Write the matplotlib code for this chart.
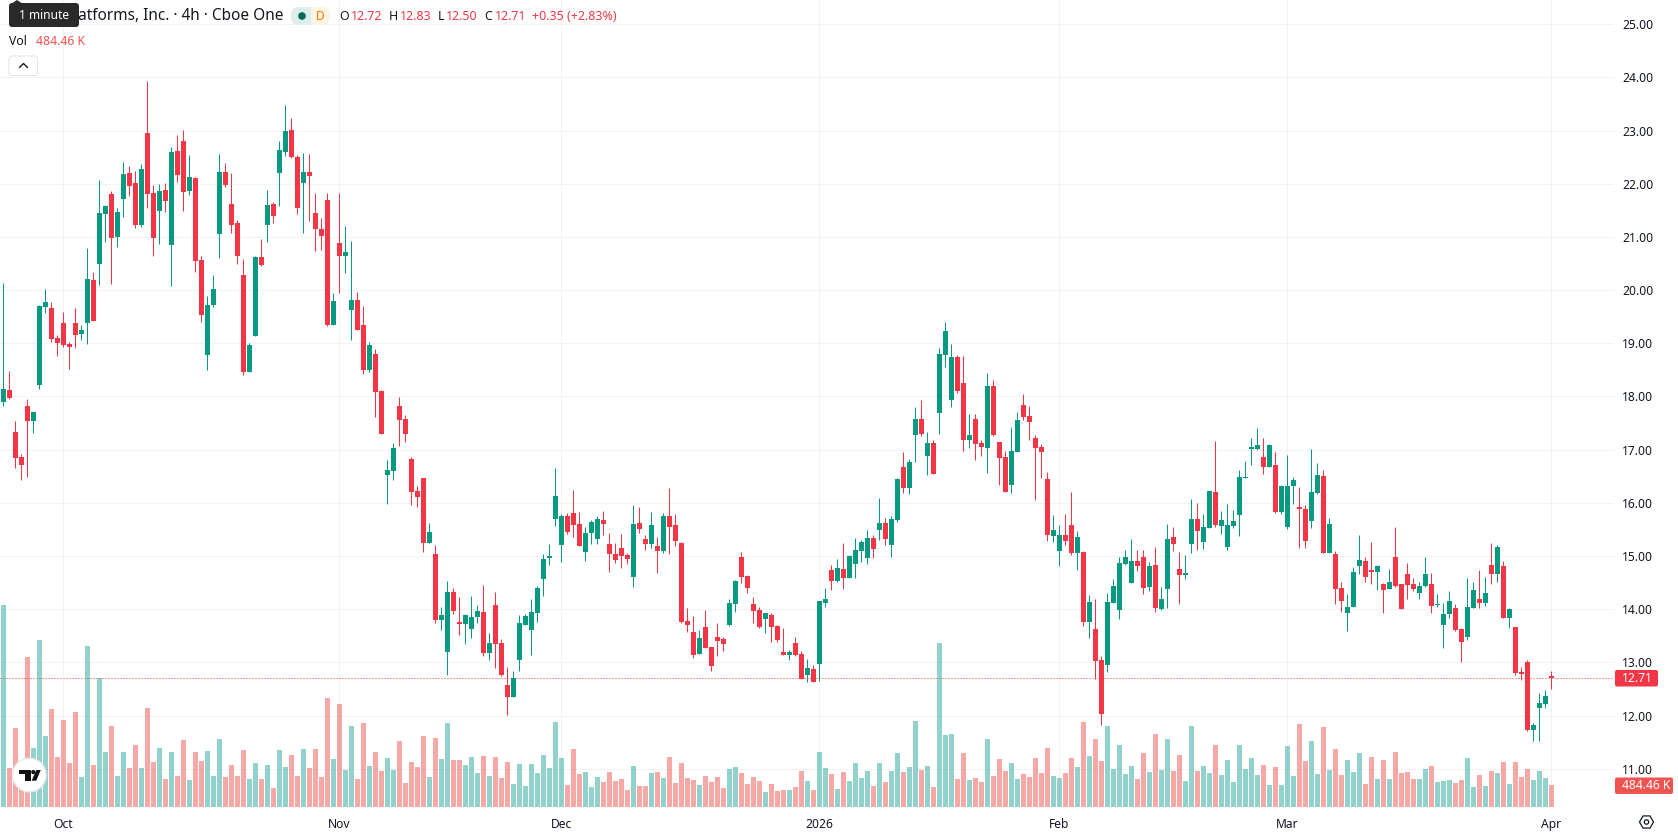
import matplotlib
matplotlib.use("Agg")
import matplotlib.pyplot as plt
import numpy as np
from matplotlib.patches import Circle, FancyBboxPatch, Polygon, Rectangle, RegularPolygon

plt.rcParams["font.family"] = ["Noto Sans", "DejaVu Sans"]

# 4h candles, oldest first
highs = [
    20.13,18.48,17.53,16.91,17.95,17.70,19.72,20.02,19.77,19.15,
    19.59,19.02,19.66,19.34,20.79,20.34,22.07,21.60,21.86,21.54,
    22.41,22.33,22.24,22.37,23.93,21.97,21.99,22.01,22.69,22.91,
    23.01,22.54,22.13,20.64,19.89,20.28,22.56,22.39,22.20,21.32,
    20.58,19.00,20.64,20.96,21.88,21.66,22.80,23.48,23.23,22.54,
    22.58,22.56,21.82,21.35,21.82,19.94,21.82,21.20,20.92,19.96,
    19.70,19.02,18.89,18.12,16.81,17.13,17.99,17.65,16.86,16.32,
    16.47,15.62,15.21,14.04,14.53,14.40,14.23,13.91,14.25,14.08,
    14.45,13.55,14.32,13.44,12.91,12.83,13.89,13.91,14.19,14.43,
    15.04,15.22,16.66,15.79,15.81,16.24,15.83,15.55,15.68,15.75,
    15.85,15.43,15.24,15.41,15.06,15.96,15.92,15.39,15.83,15.36,
    15.81,16.28,15.79,15.26,14.02,13.87,13.61,13.98,13.29,13.74,
    13.47,14.20,14.55,15.07,14.64,14.23,14.04,13.92,13.92,13.70,
    13.64,13.23,13.47,13.21,13.06,12.95,14.15,14.40,14.83,14.94,
    15.24,15.02,15.34,15.30,15.49,15.39,16.09,15.71,15.75,16.47,
    16.95,16.82,17.80,17.93,17.33,17.18,18.91,19.40,18.99,18.78,
    18.76,17.67,17.67,17.18,18.44,18.31,17.14,16.97,17.43,17.71,
    18.05,17.82,17.27,17.11,16.58,15.77,15.58,15.79,16.20,15.47,
    15.09,14.26,14.19,13.11,14.30,14.56,14.98,15.11,15.31,15.11,
    15.11,14.88,15.16,14.41,15.61,15.54,15.07,15.01,16.07,15.99,
    15.78,16.23,17.17,15.84,15.97,15.86,16.61,16.78,17.21,17.40,
    17.21,17.10,16.95,16.33,16.89,16.48,16.29,15.95,17.01,16.74,
    16.61,15.71,15.09,14.51,14.28,14.79,15.39,14.98,15.26,14.83,
    14.49,14.75,15.54,14.47,14.86,14.58,14.51,14.98,14.68,14.28,
    14.11,14.34,14.09,13.64,14.58,14.52,14.73,14.60,15.24,15.20,
    14.90,14.02,13.66,12.91,13.04,11.86,12.42,12.48,12.83,
]
lows = [
    17.82,17.95,16.65,16.42,16.48,17.32,18.14,19.57,19.02,18.76,
    18.93,18.51,18.91,19.06,18.98,19.42,20.09,20.90,20.11,20.81,
    21.37,21.77,21.17,21.19,21.54,20.64,20.87,21.47,20.07,22.03,
    21.49,21.79,20.34,19.40,18.50,19.68,20.60,21.94,21.07,20.49,
    18.40,18.46,19.13,20.45,20.90,21.26,21.58,22.52,22.48,21.43,
    21.07,21.30,20.73,20.75,19.32,19.34,19.94,20.32,19.06,19.25,
    18.42,18.46,17.61,17.30,15.98,16.43,17.07,17.15,15.96,15.92,
    15.07,15.24,13.74,13.61,12.76,13.91,13.51,13.34,13.46,13.74,
    13.12,13.04,12.89,12.74,12.01,12.35,12.83,13.70,13.14,13.76,
    14.25,14.83,15.56,14.89,15.41,15.36,15.19,14.90,15.22,15.22,
    15.39,14.70,14.87,14.77,14.85,14.42,15.43,15.11,15.15,14.68,
    15.06,15.04,15.19,13.74,13.57,13.08,13.16,13.27,12.83,13.12,
    13.21,13.68,13.94,14.49,14.30,13.74,13.64,13.55,13.38,13.38,
    13.13,13.04,13.11,12.68,12.63,12.63,12.65,14.04,14.36,14.51,
    14.38,14.58,14.58,14.88,14.85,14.96,15.30,15.20,14.98,15.64,
    16.18,16.17,16.77,17.26,16.52,16.54,17.29,18.55,17.80,18.07,
    16.97,17.03,16.80,16.88,16.56,17.26,16.33,16.20,16.18,16.95,
    17.56,17.18,16.05,16.47,15.28,15.26,14.81,15.20,15.02,14.73,
    13.68,13.45,12.68,11.82,12.81,14.11,13.81,14.83,14.49,14.71,
    14.28,14.34,13.94,13.98,14.02,15.09,14.09,14.56,15.05,15.11,
    15.13,15.52,15.54,15.41,15.11,15.52,15.37,16.46,16.72,16.99,
    16.54,16.67,15.80,15.78,15.50,15.97,15.15,15.15,15.52,16.16,
    15.05,15.05,14.09,13.94,13.58,14.04,14.66,14.52,14.47,14.36,
    13.92,14.37,14.41,14.00,14.19,14.34,14.19,14.41,13.92,14.04,
    13.27,13.83,13.58,13.00,13.42,14.02,14.02,14.05,14.47,14.52,
    13.83,13.64,12.76,12.66,11.70,11.52,11.52,12.14,12.50,
]
opens = [
    17.89,18.12,17.34,16.87,17.82,17.53,18.21,19.68,19.66,19.10,
    19.38,18.98,19.38,19.17,19.38,20.19,20.49,21.43,21.81,21.00,
    21.71,22.20,22.01,21.22,22.95,21.82,21.49,21.88,20.85,22.61,
    22.80,21.86,22.11,20.56,18.78,19.72,21.05,22.22,21.62,21.26,
    20.28,18.46,19.13,20.62,21.22,21.62,22.20,22.60,23.01,22.50,
    22.01,22.22,21.45,21.15,21.69,19.34,20.88,20.64,19.62,19.81,
    19.34,18.50,18.80,18.10,16.52,16.60,17.82,17.58,16.83,16.22,
    16.47,15.24,15.04,13.79,13.19,14.32,13.76,13.72,13.62,13.85,
    13.94,13.17,14.08,13.36,12.57,12.35,13.04,13.70,13.61,13.93,
    14.57,14.97,15.70,15.21,15.75,15.81,15.60,15.07,15.43,15.32,
    15.68,15.22,15.04,15.15,15.02,14.60,15.62,15.32,15.22,15.19,
    15.09,15.75,15.58,15.24,13.78,13.57,13.16,13.66,13.29,13.47,
    13.44,13.70,14.09,14.98,14.62,14.09,13.98,13.81,13.89,13.68,
    13.19,13.13,13.36,13.15,12.76,12.87,12.97,14.11,14.73,14.53,
    14.75,14.58,14.85,15.09,14.96,15.34,15.49,15.62,15.20,15.67,
    16.67,16.28,17.28,17.58,16.88,17.12,17.69,18.78,17.93,18.74,
    18.25,17.18,17.58,17.12,17.03,18.20,17.14,16.86,16.33,16.95,
    17.84,17.63,17.22,17.05,16.45,15.37,15.09,15.39,15.58,15.05,
    15.07,13.76,13.62,13.04,12.95,14.11,13.98,14.84,14.49,14.90,
    14.99,14.41,14.83,14.00,14.37,15.35,14.75,14.64,15.22,15.69,
    15.26,15.52,16.20,15.56,15.16,15.56,15.77,16.46,17.01,17.01,
    16.87,16.67,16.71,15.82,15.54,16.31,15.92,15.88,15.65,16.18,
    16.50,15.05,15.03,14.39,13.92,14.04,14.81,14.90,14.73,14.69,
    14.47,14.37,14.99,14.47,14.66,14.47,14.30,14.43,14.47,14.07,
    13.70,13.90,14.02,13.62,13.47,14.02,14.19,14.11,14.83,14.66,
    14.81,13.83,13.66,12.81,13.00,11.72,12.14,12.21,12.72,
]
closes = [
    18.14,17.97,16.85,16.72,17.53,17.70,19.70,19.77,19.08,19.00,
    18.97,18.93,19.15,19.25,20.21,19.42,21.45,21.58,20.98,21.47,
    22.18,21.96,21.22,22.28,21.81,20.98,21.86,21.67,22.60,22.16,
    21.84,22.13,20.55,19.53,19.72,20.02,22.22,21.97,21.22,20.64,
    18.46,18.97,20.62,20.47,21.60,21.39,22.63,22.99,22.50,21.54,
    22.22,22.14,21.15,21.02,19.34,19.79,20.64,20.71,19.81,19.25,
    18.50,18.97,18.08,17.30,16.62,17.03,17.56,17.30,16.20,16.11,
    15.24,15.45,13.79,13.89,14.32,13.96,13.72,13.89,13.85,13.96,
    13.17,13.36,13.34,12.76,12.35,12.70,13.74,13.87,13.95,14.40,
    14.94,14.98,16.13,15.75,15.45,15.58,15.19,15.43,15.64,15.70,
    15.60,15.04,14.92,15.00,14.94,15.60,15.51,15.22,15.58,15.09,
    15.75,15.55,15.28,13.76,13.70,13.14,13.46,13.27,12.93,13.40,
    13.34,14.11,14.53,14.60,14.40,13.96,13.66,13.92,13.66,13.42,
    13.13,13.19,13.13,12.68,12.89,12.63,14.15,14.19,14.53,14.77,
    14.58,15.00,15.11,15.26,15.34,15.13,15.62,15.32,15.69,16.45,
    16.28,16.77,17.58,17.29,17.12,16.54,18.80,19.23,18.74,18.10,
    17.18,17.28,17.11,17.05,18.20,17.28,16.84,16.20,16.97,17.56,
    17.61,17.52,17.03,16.95,15.39,15.49,15.39,15.28,15.05,15.35,
    13.76,14.13,13.02,12.03,14.13,14.43,14.86,14.98,14.90,14.81,
    14.39,14.81,14.02,14.20,15.31,15.22,14.64,14.68,15.69,15.47,
    15.54,16.23,15.58,15.67,15.58,15.65,16.48,16.48,17.04,17.08,
    16.67,17.08,15.82,16.31,16.31,16.42,15.88,15.28,16.20,16.52,
    15.05,15.60,14.37,14.15,14.04,14.69,14.92,14.60,14.69,14.81,
    14.36,14.51,14.43,14.00,14.45,14.37,14.43,14.66,14.05,14.09,
    13.90,14.15,13.60,13.38,14.04,14.36,14.11,14.30,14.66,15.16,
    13.83,14.00,12.80,12.78,11.72,11.82,12.23,12.36,12.71,
]
# volume per candle, thousands of shares
volumes_k = [
    4448,859,1740,925,3303,1299,3677,1563,2158,1101,
    1916,969,2092,661,3545,925,2833,1211,1784,683,
    1211,859,1365,859,2180,991,1299,617,1211,683,
    1475,595,1211,1013,1233,683,1497,661,925,683,
    1255,617,969,617,925,418,1255,881,1145,683,
    1277,859,1277,661,2400,1057,2268,815,1784,617,
    1850,903,1211,793,1079,815,1453,528,991,881,
    1563,661,1519,1057,1850,1035,1035,925,1101,749,
    1123,683,1101,639,991,506,947,462,947,749,
    1145,859,1872,1079,484,1277,727,771,440,661,
    550,771,573,617,374,903,462,462,749,771,
    639,1101,528,969,639,595,484,683,550,661,
    418,837,881,749,506,661,573,330,506,352,
    374,374,440,793,573,374,1211,859,727,396,
    771,573,969,639,793,462,969,550,793,1189,
    771,881,1894,815,903,440,3611,1585,1607,617,
    1189,595,639,550,1497,683,1057,793,969,617,
    727,661,1079,749,1299,683,639,749,1079,881,
    1872,1123,1497,1013,1784,837,1365,727,903,617,
    1189,771,1607,815,1497,793,1145,573,1784,793,
    903,749,1365,705,1035,550,1365,837,1079,705,
    925,484,881,484,1343,683,1828,1013,1453,727,
    1762,815,1277,705,1035,771,1189,506,1101,617,
    1035,617,1211,749,771,617,617,837,903,550,
    573,595,528,595,1079,440,705,462,793,749,
    991,506,991,661,837,595,793,639,484.46,
]
# month boundaries on the time axis: candle index and label
month_ticks = [10, 56, 93, 136, 176, 214, 258]
month_labels = ["Oct", "Nov", "Dec", "2026", "Feb", "Mar", "Apr"]
price_ticks = list(range(11, 26))

UP = "#089981"
DOWN = "#F23645"
VOL_UP = "#26a69a"
VOL_DOWN = "#ef5350"
GRID = "#f1f2f4"
INK = "#131722"
PX = 0.72  # one device pixel in points at 100 dpi

W, H = 1678, 835
PANE_R, PANE_B = 1614, 807

opens_a, closes_a = np.array(opens), np.array(closes)
highs_a, lows_a = np.array(highs), np.array(lows)
vols_a = np.array(volumes_k)
xs = np.arange(len(opens))
rising = closes_a >= opens_a

fig = plt.figure(figsize=(W / 100, H / 100), dpi=100, facecolor="white")
rect = [0, 1 - PANE_B / H, PANE_R / W, PANE_B / H]

# price pane
ax = fig.add_axes(rect, zorder=1, facecolor="white")
ax.set_xlim(-0.555, 268.45)
ax.set_ylim(10.28, 25.454)
for s in ax.spines.values():
    s.set_visible(False)
ax.yaxis.tick_right()
ax.set_yticks(price_ticks)
ax.set_yticklabels([f"{p:.2f}" for p in price_ticks], fontsize=8.7, color=INK)
ax.set_xticks(month_ticks)
ax.set_xticklabels(month_labels, fontsize=8.7, color=INK)
ax.get_xticklabels()[3].set_fontweight("bold")
ax.tick_params(axis="both", length=0)
ax.tick_params(axis="y", pad=5.8)
ax.tick_params(axis="x", pad=7.6)
ax.grid(True, color=GRID, linewidth=PX)
ax.set_axisbelow(True)

colors = np.where(rising, UP, DOWN)
ax.vlines(xs, lows_a, highs_a, colors=colors, linewidth=PX * 1.0, zorder=2)
body_low = np.minimum(opens_a, closes_a)
body_h = np.maximum(np.abs(closes_a - opens_a), 0.025)
ax.bar(xs, body_h, bottom=body_low, width=5 / 6, color=colors, linewidth=0, zorder=3)
ax.axhline(closes[-1], color=DOWN, linewidth=PX, linestyle=(0, (1, 2)), zorder=4)

# volume pane over the same rectangle, 22.02K per pixel
ax_vol = fig.add_axes(rect, zorder=2, sharex=ax)
ax_vol.patch.set_visible(False)
ax_vol.set_ylim(0, PANE_B * 22.02)
ax_vol.axis("off")
ax_vol.bar(xs, vols_a, width=5 / 6, linewidth=0,
           color=np.where(rising, VOL_UP, VOL_DOWN), alpha=0.5)

# header, value tags and widgets, placed in pixel coordinates
ui = fig.add_axes([0, 0, 1, 1], zorder=5)
ui.patch.set_visible(False)
ui.set_xlim(0, W)
ui.set_ylim(H, 0)
ui.axis("off")


def label(x, y, s, color=INK, size=9.0, ha="left", **kw):
    ui.text(x, y, s, color=color, fontsize=size, ha=ha, va="center", **kw)


def round_box(x0, y0, x1, y1, r, **kw):
    ui.add_patch(FancyBboxPatch((x0 + r, y0 + r), x1 - x0 - 2 * r, y1 - y0 - 2 * r,
                                boxstyle=f"round,pad={r},rounding_size={r}", **kw))


label(78, 16.5, "atforms, Inc. · 4h · Cboe One", size=11.1)

# tooltip over the instrument name
ui.add_patch(Polygon([[11, 4], [17, 0], [23, 4]], color="#2a2a2a", linewidth=0))
round_box(9, 3, 79, 27, 3, facecolor="#2a2a2a", edgecolor="none")
label(44, 15.5, "1 minute", color="white", size=8.6, ha="center")

# market status pill
round_box(291, 7, 330, 25, 8, facecolor="#fff3e4", edgecolor="none")
pill = FancyBboxPatch((299, 15), 14, 2, boxstyle="round,pad=8,rounding_size=8",
                      facecolor="#dcefec", edgecolor="none")
ui.add_patch(pill)
pill.set_clip_path(Rectangle((291, 7), 20, 18, transform=ui.transData))
ui.add_patch(Circle((302, 16), 3.8, color="#00695c", linewidth=0))
label(320, 16, "D", color="#f57c00", size=8.6, ha="center", fontweight="bold")

# OHLC readout
for x_key, key, x_val, val in [(339.5, "O", 351, "12.72"), (389, "H", 400, "12.83"),
                               (438, "L", 445.5, "12.50"), (484, "C", 495, "12.71")]:
    label(x_key, 17, key, size=8.9)
    label(x_val, 17, val, color=DOWN, size=8.9)
label(531.5, 17, "+0.35 (+2.83%)", color=DOWN, size=8.95)

label(9, 41.5, "Vol", size=8.8)
label(36.5, 41.5, "484.46 K", color=VOL_DOWN, size=8.8)

# collapse button
round_box(9, 56, 37.5, 75.5, 3, facecolor="white", edgecolor="#e0e3eb", linewidth=PX)
ui.plot([19.5, 23.5, 27.5], [67.5, 63.5, 67.5], color=INK, linewidth=1.0,
        solid_capstyle="round")

# value tags on the price scale
round_box(1615, 670, 1658, 686.5, 2, facecolor=DOWN, edgecolor="none")
label(1622, 678.2, "12.71", color="white", size=8.7)
round_box(1615, 777.5, 1673, 794, 2, facecolor=VOL_DOWN, edgecolor="none")
label(1622, 785.7, "484.46 K", color="white", size=8.7)

# scale settings icon
ui.add_patch(RegularPolygon((1646.5, 822), 6, radius=7, orientation=np.pi / 2,
                            facecolor="none", edgecolor=INK, linewidth=0.9))
ui.add_patch(Circle((1646.5, 822), 2.2, facecolor="none", edgecolor=INK, linewidth=0.9))

# attribution badge
ui.add_patch(Circle((29.3, 775), 16.8, facecolor="white", edgecolor="#e9e9e9", linewidth=1.0))
ui.add_patch(Polygon([[19, 770], [30.8, 770], [30.8, 780.7], [25.4, 780.7],
                      [25.4, 774.3], [19, 774.3]], color="#111111", linewidth=0))
ui.add_patch(Circle((33.3, 772.1), 2.1, color="#111111", linewidth=0))
ui.add_patch(Polygon([[36.4, 770], [40.8, 770], [36.2, 780.7], [31.6, 780.7]],
                     color="#111111", linewidth=0))

fig.savefig("out.png", dpi=100, facecolor="white")
